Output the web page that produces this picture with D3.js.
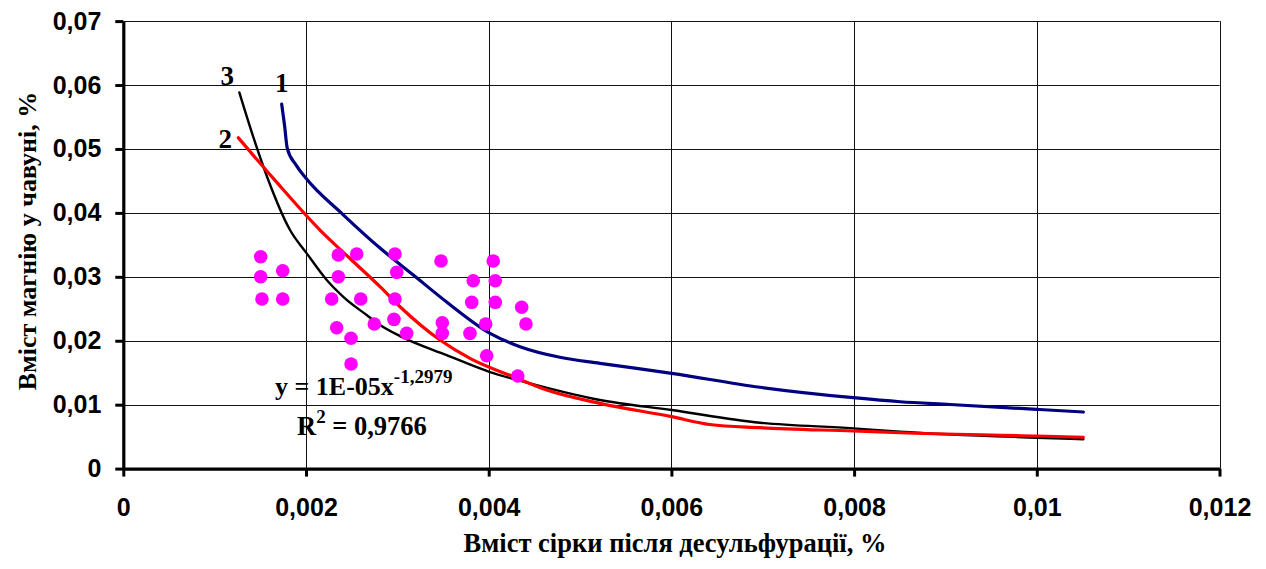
<!DOCTYPE html>
<html>
<head>
<meta charset="utf-8">
<script src="https://cdn.jsdelivr.net/npm/d3@7"></script>
<style>
  html, body { margin: 0; padding: 0; background: #fff; }
  svg { display: block; }
</style>
</head>
<body>
<svg id="chart" width="1266" height="569"></svg>
<script>
// Axis ticks and their printed labels (decimal comma)
const xTicks = [0, 0.002, 0.004, 0.006, 0.008, 0.010, 0.012];
const xTickLabels = ["0", "0,002", "0,004", "0,006", "0,008", "0,01", "0,012"];
const yTicks = [0, 0.01, 0.02, 0.03, 0.04, 0.05, 0.06, 0.07];
const yTickLabels = ["0", "0,01", "0,02", "0,03", "0,04", "0,05", "0,06", "0,07"];

// Measured melts: sulphur after desulphurisation (x) vs magnesium in iron (y)
const sampleS = [0.001504, 0.001504, 0.001518, 0.001745, 0.001745, 0.002354, 0.002354, 0.002281,
  0.002336, 0.002555, 0.002599, 0.002493, 0.002493, 0.002748, 0.002974, 0.002993, 0.002974,
  0.002963, 0.003102, 0.003478, 0.003492, 0.003492, 0.003831, 0.003814, 0.003795, 0.004050,
  0.004072, 0.004072, 0.003967, 0.003978, 0.004361, 0.004408, 0.004318];
const sampleMg = [0.03314, 0.03001, 0.02653, 0.03095, 0.02653, 0.03341, 0.03001, 0.02653,
  0.02204, 0.03356, 0.02653, 0.02038, 0.01636, 0.02262, 0.03356, 0.03070, 0.02653,
  0.02335, 0.02116, 0.03247, 0.02282, 0.02116, 0.02939, 0.02601, 0.02116, 0.03247,
  0.02939, 0.02601, 0.02262, 0.01766, 0.02523, 0.02262, 0.01448];

// Curve 1
const curve1S = [0.001734, 0.001765, 0.001795, 0.00189, 0.0020, 0.002405, 0.00281,
  0.003175, 0.00354, 0.004015, 0.004343, 0.00478, 0.005218, 0.006003, 0.00697, 0.007991,
  0.008503, 0.00905, 0.0100, 0.01051];
const curve1Mg = [0.0570, 0.0537, 0.0501, 0.0475, 0.0454, 0.03974, 0.0345,
  0.03028, 0.02606, 0.02116, 0.01907, 0.01741, 0.01647, 0.01490, 0.01272, 0.01109,
  0.01046, 0.01003, 0.00927, 0.00885];

// Curve 2
const curve2S = [0.001259, 0.001642, 0.002153, 0.002482, 0.00281, 0.003029, 0.003467, 0.003795,
  0.00427, 0.004635, 0.005218, 0.006003, 0.00642, 0.00697, 0.007991, 0.008503, 0.0100, 0.01051];
const curve2Mg = [0.05175, 0.0454, 0.03732, 0.03286, 0.02845, 0.02532, 0.02011, 0.01725,
  0.01437, 0.01229, 0.01021, 0.00812, 0.00690, 0.0064, 0.00588, 0.00561, 0.0051, 0.0049];

// Curve 3 (power trend of the measured melts)
const curve3S = [0.00127, 0.00142, 0.001587, 0.001825, 0.002008, 0.002227, 0.002408, 0.002664,
  0.00281, 0.003029, 0.00354, 0.004015, 0.004452, 0.005218, 0.006003, 0.00697,
  0.007991, 0.008503, 0.0100, 0.01051];
const curve3Mg = [0.05885, 0.0520, 0.04514, 0.03732, 0.03367, 0.0295, 0.02688, 0.02402,
  0.02246, 0.02073, 0.01775, 0.01510, 0.01334, 0.01073, 0.00916, 0.00718,
  0.0063, 0.00577, 0.00483, 0.00458];

const curveNames = ["1", "2", "3"];
const trendEquation = { base: "y = 1E-05x", exponent: "-1,2979" };
const trendR2 = { base: "R", exponent: "2", rest: " = 0,9766" };

const svg = d3.select("#chart");

const x = d3.scaleLinear().domain([0, 0.012]).range([123.3, 1219.5]);
const y = d3.scaleLinear().domain([0, 0.07]).range([468.6, 21.1]);

const tickFont = "'Liberation Sans', Arial, sans-serif";
const serif = "'Liberation Serif', 'Times New Roman', serif";

// Grid
const grid = svg.append("g");
grid.selectAll("line.h").data(yTicks.slice(1)).join("line")
  .attr("x1", x(0)).attr("x2", x(0.012))
  .attr("y1", d => Math.round(y(d)) + 0.5).attr("y2", d => Math.round(y(d)) + 0.5)
  .attr("stroke", "#111").attr("stroke-width", 1);
grid.selectAll("line.v").data(xTicks.slice(1)).join("line")
  .attr("y1", y(0)).attr("y2", y(0.07))
  .attr("x1", d => Math.round(x(d)) + 0.5).attr("x2", d => Math.round(x(d)) + 0.5)
  .attr("stroke", "#111").attr("stroke-width", 1);

// Curves
const series = [
  { s: curve3S, m: curve3Mg, color: "#000000", width: 2.4 },
  { s: curve2S, m: curve2Mg, color: "#FF0000", width: 3.2 },
  { s: curve1S, m: curve1Mg, color: "#000080", width: 3.2 }
];
const line = d3.line().x(d => x(d[0])).y(d => y(d[1])).curve(d3.curveMonotoneX);
svg.append("g").selectAll("path").data(series).join("path")
  .attr("d", d => line(d.s.map((v, i) => [v, d.m[i]])))
  .attr("fill", "none")
  .attr("stroke", d => d.color)
  .attr("stroke-width", d => d.width)
  .attr("stroke-linejoin", "round")
  .attr("stroke-linecap", "round");

// Measured points
svg.append("g").selectAll("circle").data(sampleS.map((v, i) => [v, sampleMg[i]])).join("circle")
  .attr("cx", d => x(d[0])).attr("cy", d => y(d[1]))
  .attr("r", 6.8).attr("fill", "#FF00FF");

// Axes
const xAxis = d3.axisBottom(x).tickValues(xTicks)
  .tickFormat((d, i) => xTickLabels[i]).tickSizeOuter(0).tickSizeInner(8).tickPadding(22);
const yAxis = d3.axisLeft(y).tickValues(yTicks)
  .tickFormat((d, i) => yTickLabels[i]).tickSizeOuter(0).tickSizeInner(8).tickPadding(14);

const gx = svg.append("g").attr("transform", `translate(0,${y(0)})`).call(xAxis);
const gy = svg.append("g").attr("transform", `translate(${x(0)},0)`).call(yAxis);
[gx, gy].forEach(g => {
  g.select(".domain").attr("stroke", "#000").attr("stroke-width", 3.2);
  g.selectAll(".tick line").attr("stroke", "#000").attr("stroke-width", 3);
  g.selectAll(".tick text").attr("fill", "#000")
    .style("font-family", tickFont).style("font-weight", "bold").style("font-size", "25px");
});

// Axis titles
svg.append("text")
  .attr("x", 675).attr("y", 552)
  .attr("text-anchor", "middle")
  .style("font-family", serif).style("font-weight", "bold").style("font-size", "26.5px")
  .text("Вміст сірки після десульфурації, %");

svg.append("text")
  .attr("transform", "translate(36,241) rotate(-90)")
  .attr("text-anchor", "middle")
  .style("font-family", serif).style("font-weight", "bold").style("font-size", "26px")
  .text("Вміст магнію у чавуні, %");

// Curve numbers
const labelPos = [
  { s: curve1S[0], m: curve1Mg[0], dx: 0, dy: -12 },
  { s: curve2S[0], m: curve2Mg[0], dx: -13, dy: 10 },
  { s: curve3S[0], m: curve3Mg[0], dx: -12, dy: -7 }
];
svg.append("g").selectAll("text").data(curveNames).join("text")
  .attr("x", (d, i) => x(labelPos[i].s) + labelPos[i].dx)
  .attr("y", (d, i) => y(labelPos[i].m) + labelPos[i].dy)
  .attr("text-anchor", "middle")
  .style("font-family", serif).style("font-weight", "bold").style("font-size", "27px")
  .text(d => d);

// Trend equation
const eq = svg.append("text")
  .attr("x", 275).attr("y", 395)
  .style("font-family", serif).style("font-weight", "bold").style("font-size", "26px");
eq.append("tspan").text(trendEquation.base);
eq.append("tspan").attr("dy", -12).style("font-size", "19px").text(trendEquation.exponent);

const r2 = svg.append("text")
  .attr("x", 297).attr("y", 435)
  .style("font-family", serif).style("font-weight", "bold").style("font-size", "26.5px");
r2.append("tspan").text(trendR2.base);
r2.append("tspan").attr("dy", -12).style("font-size", "19px").text(trendR2.exponent);
r2.append("tspan").attr("dy", 12).text(trendR2.rest);
</script>
</body>
</html>
